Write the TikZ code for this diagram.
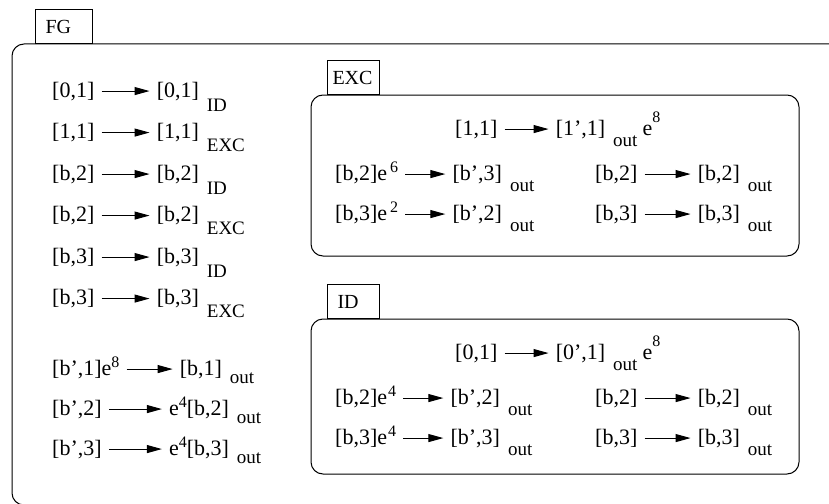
\documentclass[tikz,border=0pt]{standalone}
\usepackage{fontspec}
\setmainfont{Liberation Serif}
\usetikzlibrary{positioning,arrows.meta}
\newcommand{\subtag}[2][12]{\hspace{8pt}\smash{\raisebox{-#1pt}{\fontsize{19}{19}\selectfont #2}}}
\newcommand{\suptag}[2][8]{\smash{\raisebox{#1pt}{\fontsize{16}{16}\selectfont #2}}}

\begin{document}
\begin{tikzpicture}[x=1pt,y=-1pt,node distance=62pt,
    every node/.style={font=\fontsize{22}{26}\selectfont,inner sep=0pt},
    frame/.style={draw,line width=1pt,rounded corners=12pt},
    tab/.style={draw,line width=1pt,anchor=south west,minimum height=34pt,inner xsep=10pt,align=left,font=\fontsize{20}{22}\selectfont},
    arr/.style={-{Triangle[length=15pt,width=8pt]},line width=1pt,shorten <=7pt,shorten >=7pt}]
    \useasboundingbox (0,0) rectangle (829,503);
    \clip (0,0) rectangle (829,503);
    % FG frame
    \draw[frame] (12,44) rectangle (870,505);
    \node[tab,text width=37pt] (fgtab) at (35,44) {FG};
    % left column
    \node[anchor=base west] (l1) at (52,97) {[0,1]};
    \node[right=of l1] (r1) {[0,1]\subtag[14]{ID}}; \draw[arr] (l1)--(r1);
    \node[anchor=base west] (l2) at (52,138.5) {[1,1]};
    \node[right=of l2] (r2) {[1,1]\subtag[13]{EXC}}; \draw[arr] (l2)--(r2);
    \node[anchor=base west] (l3) at (52,180) {[b,2]};
    \node[right=of l3] (r3) {[b,2]\subtag[14]{ID}}; \draw[arr] (l3)--(r3);
    \node[anchor=base west] (l4) at (52,221.5) {[b,2]};
    \node[right=of l4] (r4) {[b,2]\subtag[13]{EXC}}; \draw[arr] (l4)--(r4);
    \node[anchor=base west] (l5) at (52,263) {[b,3]};
    \node[right=of l5] (r5) {[b,3]\subtag[14]{ID}}; \draw[arr] (l5)--(r5);
    \node[anchor=base west] (l6) at (52,304.5) {[b,3]};
    \node[right=of l6] (r6) {[b,3]\subtag[13]{EXC}}; \draw[arr] (l6)--(r6);
    \node[anchor=base west] (l7) at (52,375) {[b',1]e\suptag{8}};
    \node[right=60pt of l7] (r7) {[b,1]\subtag[8]{out}}; \draw[arr] (l7)--(r7);
    \node[anchor=base west] (l8) at (52,415) {[b',2]};
    \node[right=67pt of l8] (r8) {e\suptag{4}[b,2]\subtag[8]{out}}; \draw[arr] (l8)--(r8);
    \node[anchor=base west] (l9) at (52,455) {[b',3]};
    \node[right=67pt of l9] (r9) {e\suptag{4}[b,3]\subtag[8]{out}}; \draw[arr] (l9)--(r9);
    % EXC frame
    \draw[frame] (311,95) rectangle (799,256);
    \node[tab,text width=42pt,inner xsep=5pt] (exctab) at (327,95) {EXC};
    \node[anchor=base west] (ea) at (455,135) {[1,1]};
    \node[right=58pt of ea] (eb) {[1',1]\subtag[11]{out}\hspace{5pt}e\suptag[13]{8}}; \draw[arr] (ea)--(eb);
    \node[anchor=base west] (ec) at (335,180) {[b,2]e\hspace{3pt}\suptag{6}};
    \node[right=54pt of ec] (ed) {[b',3]\subtag[11]{out}}; \draw[arr] (ec)--(ed);
    \node[anchor=base west] (ee) at (595,180) {[b,2]};
    \node[right=60pt of ee] (ef) {[b,2]\subtag[11]{out}}; \draw[arr] (ee)--(ef);
    \node[anchor=base west] (eg) at (335,220) {[b,3]e\hspace{3pt}\suptag{2}};
    \node[right=54pt of eg] (eh) {[b',2]\subtag[11]{out}}; \draw[arr] (eg)--(eh);
    \node[anchor=base west] (ei) at (595,220) {[b,3]};
    \node[right=60pt of ei] (ej) {[b,3]\subtag[11]{out}}; \draw[arr] (ei)--(ej);
    % ID frame
    \draw[frame] (311,319) rectangle (799,474);
    \node[tab,text width=32pt] (idtab) at (327,319) {ID};
    \node[anchor=base west] (ia) at (455,359) {[0,1]};
    \node[right=58pt of ia] (ib) {[0',1]\subtag[11]{out}\hspace{5pt}e\suptag[13]{8}}; \draw[arr] (ia)--(ib);
    \node[anchor=base west] (ic) at (335,404) {[b,2]e\hspace{1pt}\suptag{4}};
    \node[right=54pt of ic] (id) {[b',2]\subtag[11]{out}}; \draw[arr] (ic)--(id);
    \node[anchor=base west] (ie) at (595,404) {[b,2]};
    \node[right=60pt of ie] (if) {[b,2]\subtag[11]{out}}; \draw[arr] (ie)--(if);
    \node[anchor=base west] (ig) at (335,444) {[b,3]e\hspace{1pt}\suptag{4}};
    \node[right=54pt of ig] (ih) {[b',3]\subtag[11]{out}}; \draw[arr] (ig)--(ih);
    \node[anchor=base west] (ii) at (595,444) {[b,3]};
    \node[right=60pt of ii] (ij) {[b,3]\subtag[11]{out}}; \draw[arr] (ii)--(ij);
\end{tikzpicture}
\end{document}
